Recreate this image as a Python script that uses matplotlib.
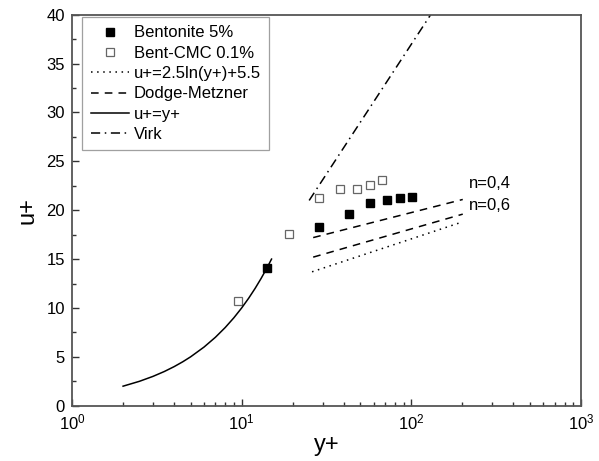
import matplotlib
matplotlib.use("Agg")
from matplotlib import pyplot as plt
from matplotlib.ticker import MultipleLocator, LogLocator, NullFormatter

plt.rcParams['font.family'] = ['Liberation Sans', 'DejaVu Sans']
plt.rcParams['mathtext.fontset'] = 'custom'
plt.rcParams['mathtext.rm'] = 'Liberation Sans'
plt.rcParams['mathtext.it'] = 'Liberation Sans'

# Bentonite 5%
bent_y = [14.2, 28.6, 43.1, 57.3, 71.8, 86.0, 100.8]
bent_u = [14.1, 18.3, 19.6, 20.7, 21.0, 21.2, 21.4]

# Bent-CMC 0.1%
cmc_y = [9.47, 19.1, 28.7, 38.1, 47.8, 57.3, 67.4]
cmc_u = [10.7, 17.6, 21.3, 22.2, 22.2, 22.6, 23.1]

# log law u+=2.5ln(y+)+5.5
log_y = [26, 200]
log_u = [13.7, 18.8]

# Dodge-Metzner, n=0.4 and n=0.6
dm04_y = [26.4, 201]
dm04_u = [17.2, 21.1]
dm06_y = [26.4, 201]
dm06_u = [15.2, 19.6]

# viscous sublayer u+=y+
lin_y = [2, 2.5, 3, 3.5, 4, 4.5, 5, 6, 7, 8, 9, 10, 11, 12, 13, 14, 15]
lin_u = [2, 2.5, 3, 3.5, 4, 4.5, 5, 6, 7, 8, 9, 10, 11, 12, 13, 14, 15]

# Virk asymptote
virk_y = [25, 130]
virk_u = [21.0, 40.0]

fig = plt.figure(figsize=(5.99, 4.61), dpi=100)
ax = fig.add_axes([0.1202, 0.1199, 0.8497, 0.8482])

ax.plot(bent_y, bent_u, 's', color='black', markersize=5.5, label='Bentonite 5%')
ax.plot(cmc_y, cmc_u, 's', markerfacecolor='white', markeredgecolor='#666666',
        markeredgewidth=0.9, markersize=5.5, label='Bent-CMC 0.1%')
ax.plot(log_y, log_u, color='black', linestyle=(0, (1, 3)), linewidth=1.1,
        label='u+=2.5ln(y+)+5.5')
ax.plot(dm04_y, dm04_u, color='black', linestyle=(0, (5, 4)), linewidth=1.1,
        label='Dodge-Metzner')
ax.plot(dm06_y, dm06_u, color='black', linestyle=(0, (5, 4)), linewidth=1.1)
ax.plot(lin_y, lin_u, color='black', linewidth=1.1, label='u+=y+')
ax.plot(virk_y, virk_u, color='black', linestyle=(0, (6, 3, 1, 3)), linewidth=1.1,
        label='Virk')

ax.text(218, 22.7, 'n=0,4', fontsize=12, va='center', ha='left')
ax.text(218, 20.5, 'n=0,6', fontsize=12, va='center', ha='left')

ax.set_xscale('log')
ax.set_xlim(1, 1000)
ax.set_ylim(0, 40)
ax.yaxis.set_major_locator(MultipleLocator(5))
ax.yaxis.set_minor_locator(MultipleLocator(2.5))
ax.xaxis.set_minor_locator(LogLocator(base=10, subs=range(2, 10)))
ax.xaxis.set_minor_formatter(NullFormatter())

ax.tick_params(which='both', direction='in', top=False, right=False,
               labelsize=12, color='#333333', pad=5)
ax.tick_params(which='major', length=5, width=1)
ax.tick_params(which='minor', length=3, width=1)
for s in ax.spines.values():
    s.set_color('#555555')
    s.set_linewidth(1.3)

ax.set_xlabel('y+', fontsize=17, labelpad=1)
ax.set_ylabel('u+', fontsize=17, labelpad=6)

leg = ax.legend(loc='upper left', bbox_to_anchor=(0.02, 0.994), fontsize=12,
                frameon=True, fancybox=False, edgecolor='#888888',
                labelspacing=0.32, handlelength=2.3, handletextpad=0.3,
                borderpad=0.5, borderaxespad=0)
leg.get_frame().set_linewidth(0.9)

fig.savefig('out.png', dpi=100)
